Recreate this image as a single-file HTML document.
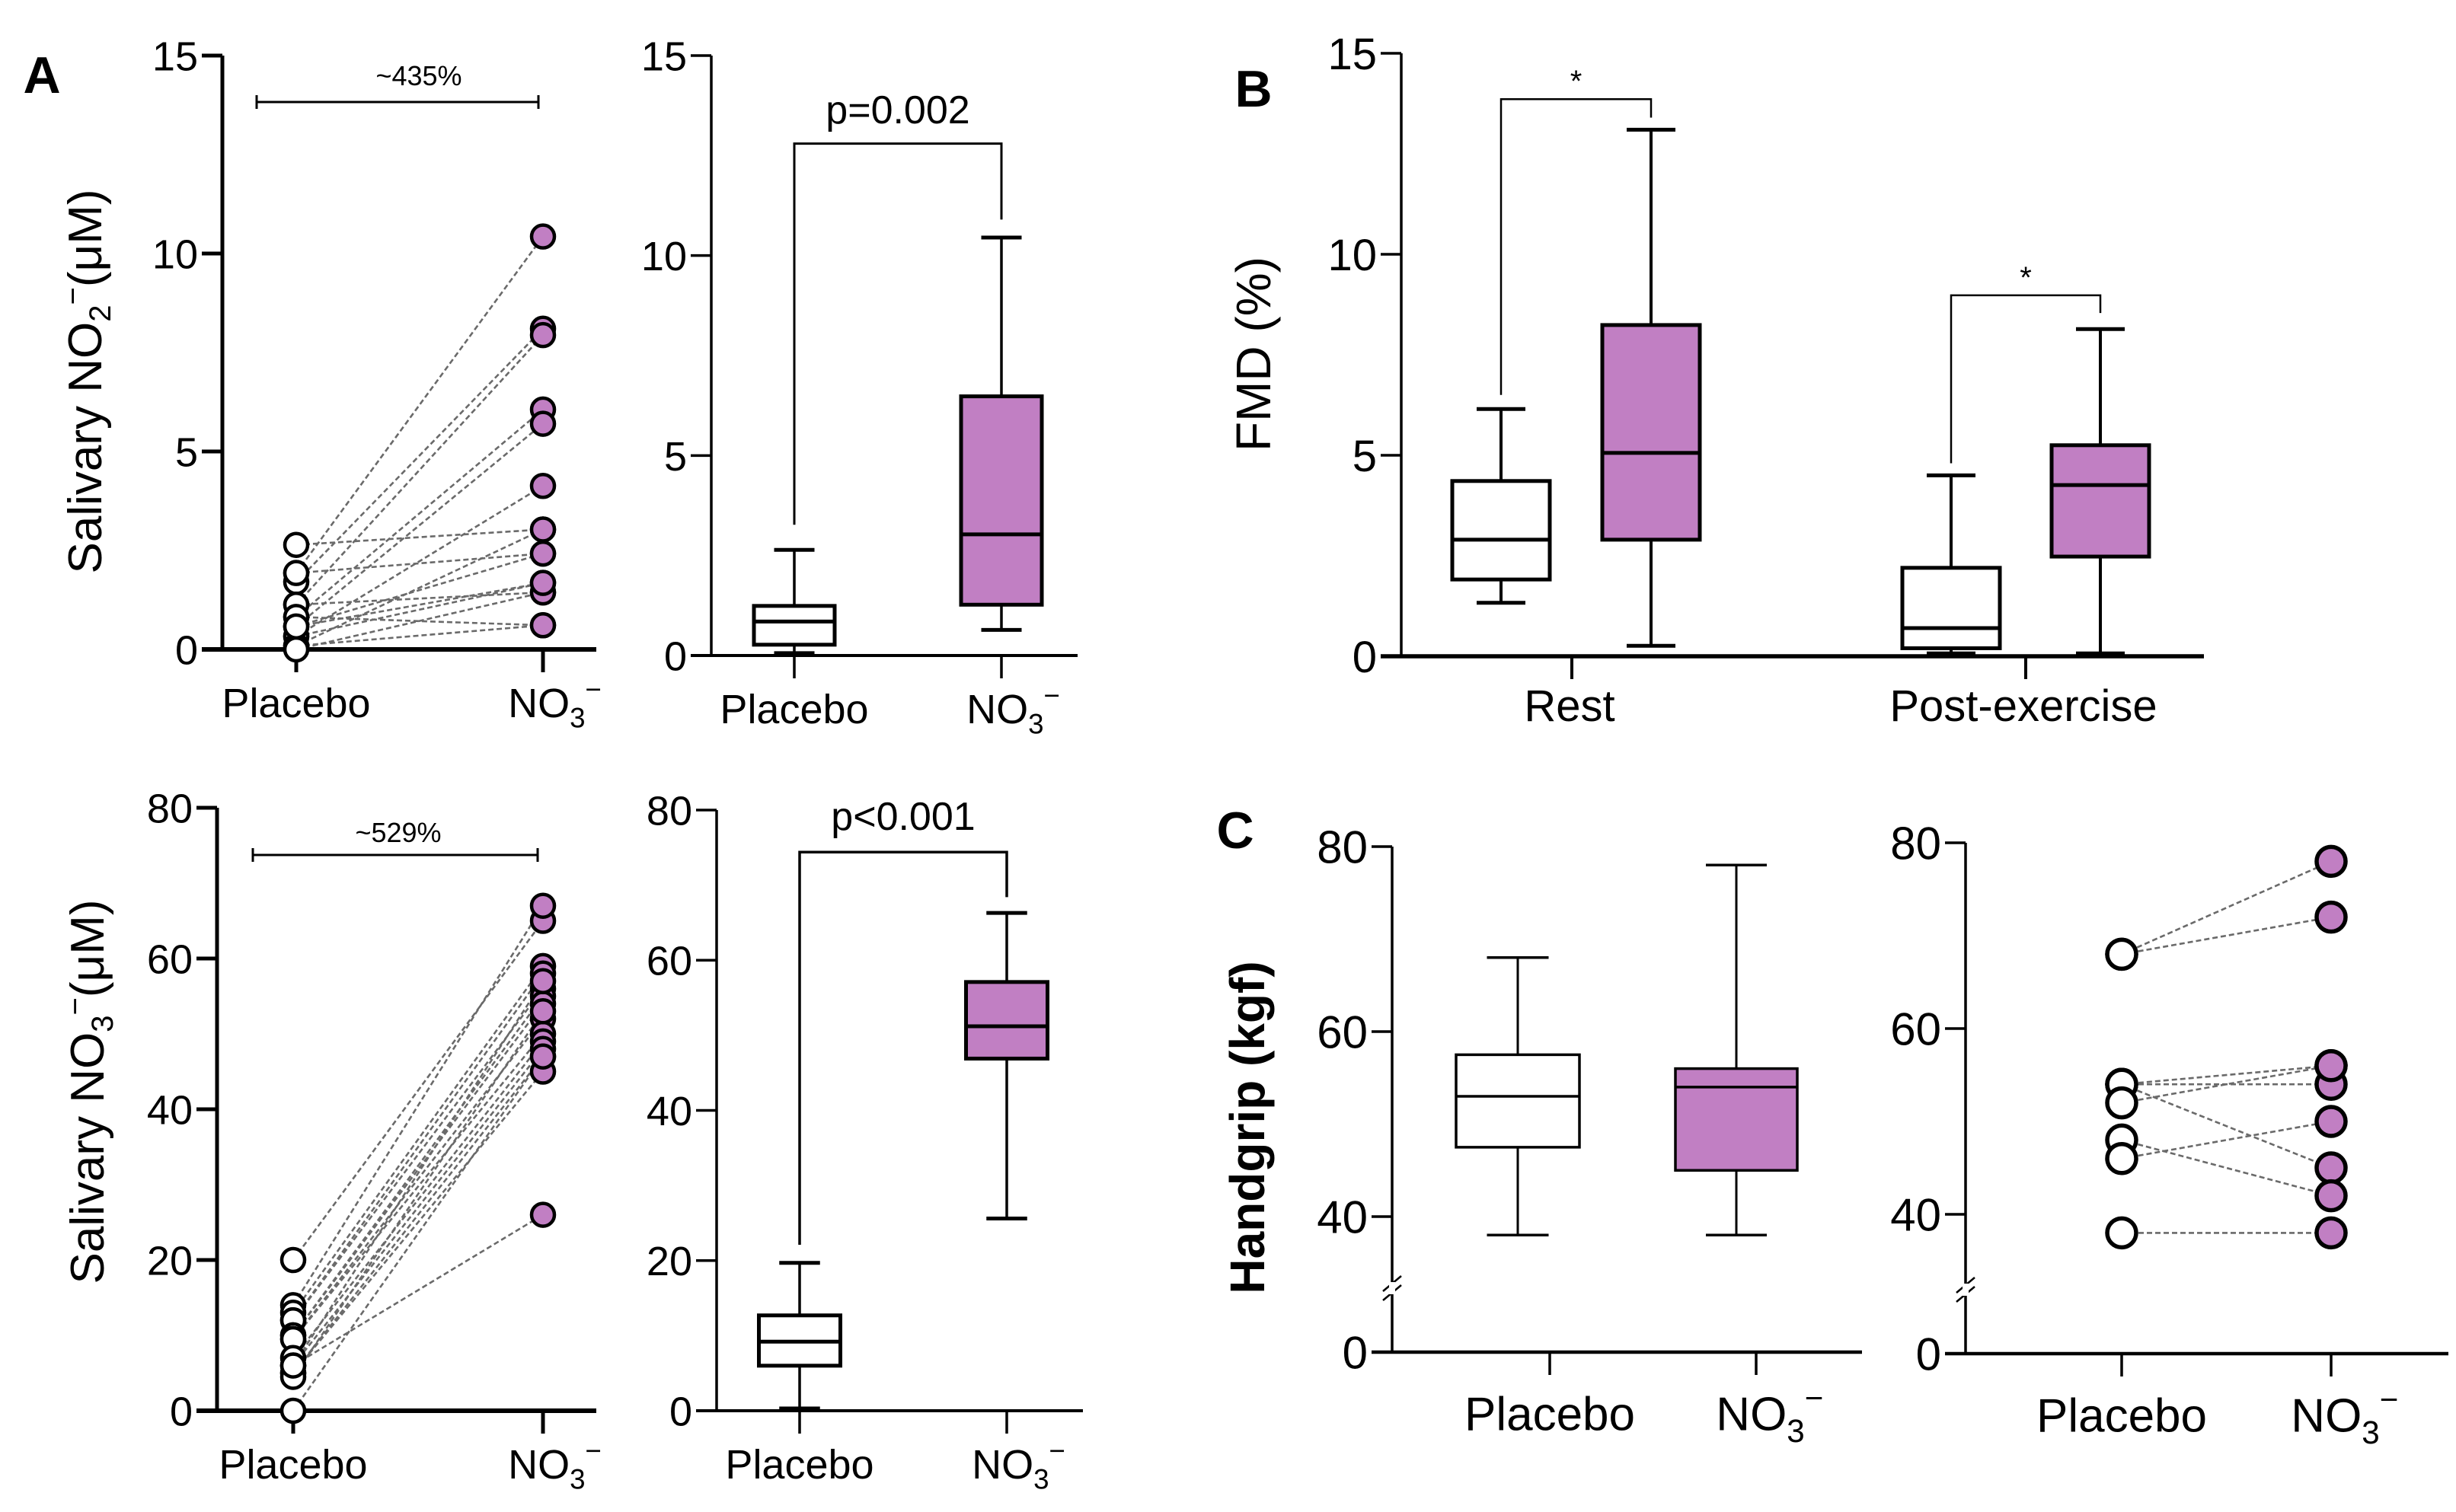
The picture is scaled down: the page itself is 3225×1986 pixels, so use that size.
<!DOCTYPE html>
<html><head><meta charset="utf-8"><style>
html,body{margin:0;padding:0;background:#fff}
svg{display:block}
text{font-family:"Liberation Sans",Arial,sans-serif;fill:#000}
</style></head><body>
<svg id="fig" xmlns="http://www.w3.org/2000/svg" width="3225" height="1986" viewBox="0 0 3225 1986">
<rect x="0" y="0" width="3225" height="1986" fill="#fff"/>
<text x="55" y="122" font-size="68" font-weight="bold" text-anchor="middle">A</text>
<text x="1646" y="140" font-size="68" font-weight="bold" text-anchor="middle">B</text>
<text x="1622" y="1114" font-size="68" font-weight="bold" text-anchor="middle">C</text>
<text transform="translate(133,501) rotate(-90)" font-size="62" text-anchor="middle">Salivary NO<tspan font-size="40" dy="12">2</tspan><tspan font-size="40" dy="-36">−</tspan><tspan dy="24">(μM)</tspan></text>
<text transform="translate(136,1434) rotate(-90)" font-size="62" text-anchor="middle">Salivary NO<tspan font-size="40" dy="12">3</tspan><tspan font-size="40" dy="-36">−</tspan><tspan dy="24">(μM)</tspan></text>
<text transform="translate(1668,465) rotate(-90)" font-size="64" text-anchor="middle">FMD (%)</text>
<text transform="translate(1660,1481) rotate(-90)" font-size="64" font-weight="bold" text-anchor="middle">Handgrip (kgf)</text>
</svg>
<script>
// ---------- data ----------
const a1Placebo = [2.64,1.93,1.70,1.13,0.82,1.13,0.58,0.33,0.58,0.33,0.09,0.82,0.09,0.00,1.93,0.58];
const a1Nitrate = [3.03,10.43,8.10,7.94,6.06,1.44,5.70,4.13,2.42,1.68,0.61,0.61,3.03,1.44,2.42,1.68];
const a2Placebo = {min:0.06,q1:0.27,med:0.85,q3:1.24,max:2.64};
const a2Nitrate = {min:0.64,q1:1.27,med:3.03,q3:6.48,max:10.45};
const a3Placebo = [20,14,13,12,12,10,10,9.5,9.5,7,6,6,5,5,4.5,0,6];
const a3Nitrate = [65,67,59,58,56,55,54,52,50,49,57,48,47,45,53,47,26];
const a4Placebo = {min:0.3,q1:6.0,med:9.2,q3:12.7,max:19.7};
const a4Nitrate = {min:25.6,q1:46.9,med:51.2,q3:57.1,max:66.3};
const bRestPlacebo = {min:1.33,q1:1.91,med:2.9,q3:4.36,max:6.15};
const bRestNitrate = {min:0.26,q1:2.9,med:5.06,q3:8.24,max:13.1};
const bPostPlacebo = {min:0.07,q1:0.2,med:0.7,q3:2.2,max:4.5};
const bPostNitrate = {min:0.07,q1:2.48,med:4.26,q3:5.25,max:8.14};
const c1Placebo = {min:38,q1:47.5,med:53,q3:57.5,max:68};
const c1Nitrate = {min:38,q1:45,med:54,q3:56,max:78};
const c2Placebo = [68,68,54,54,54,52,48,46,38];
const c2Nitrate = [78,72,56,54,45,56,42,50,38];
const ticksNO2 = [0,5,10,15];
const ticksNO3 = [0,20,40,60,80];
const ticksFMD = [0,5,10,15];
const ticksHG = [0,40,60,80];
const groupLabels = ['Rest','Post-exercise'];

// ---------- helpers ----------
const NS='http://www.w3.org/2000/svg';
const svg=document.getElementById('fig');
const PURPLE='#c17fc3';
function mk(tag,parent,o){const e=document.createElementNS(NS,tag);for(const k in o)e.setAttribute(k,o[k]);parent.appendChild(e);return e;}
function lin(v0,p0,v1,p1){return v=>p0+(v-v0)*(p1-p0)/(v1-v0);}
function broken(v0p,lo,plo,hi,phi){const f=lin(lo,plo,hi,phi);return v=>v<=0?v0p:f(v);}

function axes(name,y,ticks,ax,xEnd,yw,xw,fs){
  const g=mk('g',svg,{});
  
  
  const y0=y(0), yt=y(ticks[ticks.length-1]);
  const yl=mk('line',g,{x1:ax,y1:yt,x2:ax,y2:y0,stroke:'#000','stroke-width':yw});
  
  
  const xl=mk('line',g,{x1:ax-27,y1:y0,x2:xEnd,y2:y0,stroke:'#000','stroke-width':xw});
  
  
  ticks.forEach(t=>{
    const tl=mk('line',g,{x1:ax-27,y1:y(t),x2:ax,y2:y(t),stroke:'#000','stroke-width':yw});
    
    
    const tx=mk('text',g,{x:ax-32,y:y(t)+fs*0.36,'font-size':fs,'text-anchor':'end'});
    tx.textContent=String(t);
    
    
  });
  return g;
}
function xcat(name,g,x,y0,label,fs,w){
  const t=mk('line',g,{x1:x,y1:y0,x2:x,y2:y0+30,stroke:'#000','stroke-width':w});
  
  
  const tx=mk('text',g,{x:x,y:y0+fs*1.65,'font-size':fs,'text-anchor':'middle'});
  if(label==='NO3'){
    tx.innerHTML='NO<tspan font-size="'+(fs*0.68)+'" dy="'+(fs*0.25)+'">3</tspan><tspan font-size="'+(fs*0.68)+'" dy="'+(-fs*0.7)+'">−</tspan>';
    tx.setAttribute('text-anchor','start');
    tx.setAttribute('x',x-fs*0.85);
  } else tx.textContent=label;
  
  
}
function box(name,g,y,cx,w,s,fill,sw,wsw){
  const bg=mk('g',g,{});
  
  
  const cw=w*0.5;
  const w1=mk('line',bg,{x1:cx,y1:y(s.q3),x2:cx,y2:y(s.max),stroke:'#000','stroke-width':wsw});
  
  
  const w2=mk('line',bg,{x1:cx,y1:y(s.q1),x2:cx,y2:y(s.min),stroke:'#000','stroke-width':wsw});
  
  
  const c1=mk('line',bg,{x1:cx-cw/2,y1:y(s.max),x2:cx+cw/2,y2:y(s.max),stroke:'#000','stroke-width':sw});
  
  
  const c2=mk('line',bg,{x1:cx-cw/2,y1:y(s.min),x2:cx+cw/2,y2:y(s.min),stroke:'#000','stroke-width':sw});
  
  
  const r=mk('rect',bg,{x:cx-w/2,y:y(s.q3),width:w,height:y(s.q1)-y(s.q3),fill:fill,stroke:'#000','stroke-width':sw});
  
  
  const m=mk('line',bg,{x1:cx-w/2,y1:y(s.med),x2:cx+w/2,y2:y(s.med),stroke:'#000','stroke-width':sw});
  
  
}
function paired(name,g,y,xa,xb,pa,pb,r,sw){
  const lg=mk('g',g,{});
  
  
  pa.forEach((v,i)=>{
    const l=mk('line',lg,{x1:xa,y1:y(v),x2:xb,y2:y(pb[i]),stroke:'#6a6a6a','stroke-width':2.6,'stroke-dasharray':'7 4'});
    
    
  });
  pa.forEach(v=>{
    const c=mk('circle',g,{cx:xa,cy:y(v),r:r,fill:'#fff',stroke:'#000','stroke-width':sw});
    
    
  });
  pb.forEach(v=>{
    const c=mk('circle',g,{cx:xb,cy:y(v),r:r,fill:PURPLE,stroke:'#000','stroke-width':sw});
    
    
  });
}
function hbracket(name,g,x1,x2,yy,label,tx,ty,fs){
  const p=mk('path',g,{d:`M${x1},${yy-9}V${yy+9}M${x1},${yy}H${x2}M${x2},${yy-9}V${yy+9}`,stroke:'#000','stroke-width':3,fill:'none'});
  
  
  const t=mk('text',g,{x:tx,y:ty,'font-size':fs,'text-anchor':'middle'});
  t.textContent=label;
  
  
}
function sig(name,g,x1,x2,yTop,yL,yR,label,ty,fs,sw){
  const p=mk('path',g,{d:`M${x1},${yL}V${yTop}H${x2}V${yR}`,stroke:'#000','stroke-width':sw,fill:'none'});
  
  
  const t=mk('text',g,{x:(x1+x2)/2,y:ty,'font-size':fs,'text-anchor':'middle'});
  t.textContent=label;
  
  
}

// ---------- Panel A1 ----------
{const y=lin(0,853,15,73);const g=axes('a1',y,ticksNO2,292,783,5,6,54);
 xcat('a1',g,389,y(0),'Placebo',54,5);xcat('a1',g,713,y(0),'NO3',54,5);
 paired('a1',g,y,389,713,a1Placebo,a1Nitrate,15,4.5);
 hbracket('a1',g,337,707,134,'~435%',550,112,36);}
// ---------- Panel A2 ----------
{const y=lin(0,861,15,73);const g=axes('a2',y,ticksNO2,934,1415,3.5,4,54);
 xcat('a2',g,1043,y(0),'Placebo',54,3.5);xcat('a2',g,1315,y(0),'NO3',54,3.5);
 box('a2-placebo-box',g,y,1043,106,a2Placebo,'#fff',5,3.5);
 box('a2-nitrate-box',g,y,1315,106,a2Nitrate,PURPLE,5,3.5);
 sig('a2',g,1043,1315,y(12.8),y(3.27),y(10.9),'p=0.002',162,52,3);}
// ---------- Panel A3 ----------
{const y=lin(0,1853,80,1061);const g=axes('a3',y,ticksNO3,285,783,5,6,54);
 xcat('a3',g,385,y(0),'Placebo',54,5);xcat('a3',g,713,y(0),'NO3',54,5);
 paired('a3',g,y,385,713,a3Placebo,a3Nitrate,15,4.5);
 hbracket('a3',g,332,706,1123,'~529%',523,1106,36);}
// ---------- Panel A4 ----------
{const y=lin(0,1853,80,1064);const g=axes('a4',y,ticksNO3,941,1422,3.5,4,54);
 xcat('a4',g,1050,y(0),'Placebo',54,3.5);xcat('a4',g,1322,y(0),'NO3',54,3.5);
 box('a4-placebo-box',g,y,1050,107,a4Placebo,'#fff',5,3.5);
 box('a4-nitrate-box',g,y,1322,107,a4Nitrate,PURPLE,5,3.5);
 sig('a4',g,1050,1322,y(74.4),y(22.1),y(68.4),'p<0.001',1090,52,3.5);}
// ---------- Panel B ----------
{const y=lin(0,862,15,70);const g=axes('b',y,ticksFMD,1840,2894,3.5,5.5,58);
 [2064,2660].forEach((x,i)=>{
   const t=mk('line',g,{x1:x,y1:y(0),x2:x,y2:y(0)+30,stroke:'#000','stroke-width':4});
   
   
   const tx=mk('text',g,{x:x-3,y:947,'font-size':58,'text-anchor':'middle'});
   tx.textContent=groupLabels[i];
   
   
 });
 box('b-rest-placebo-box',g,y,1971,128,bRestPlacebo,'#fff',5,4);
 box('b-rest-nitrate-box',g,y,2168,128,bRestNitrate,PURPLE,5,4);
 box('b-post-placebo-box',g,y,2562,128,bPostPlacebo,'#fff',5,4);
 box('b-post-nitrate-box',g,y,2758,128,bPostNitrate,PURPLE,5,4);
 sig('b-rest',g,1971,2168,y(13.86),y(6.5),y(13.4),'*',y(13.86)-10,40,2.5);
 sig('b-post',g,2562,2758,y(8.98),y(4.8),y(8.54),'*',y(8.98)-10,40,2.5);}
// ---------- Panel C1 ----------
function breakMark(name,g,ax,yb){
  const p=mk('path',g,{d:`M${ax-12},${yb+2}L${ax+12},${yb-18}M${ax-12},${yb+14}L${ax+12},${yb-6}`,stroke:'#000','stroke-width':2.5,fill:'none'});
  
  
  const w=mk('rect',g,{x:ax-4,y:yb-10,width:8,height:16,fill:'#fff'});
  
  
}
{const y=broken(1776,40,1598,80,1112);const g=axes('c1',y,ticksHG,1828,2445,3.5,4.5,60);
 breakMark('c1',g,1828,1694);
 xcat('c1',g,2035,y(0),'Placebo',62,3.5);xcat('c1',g,2306,y(0),'NO3',62,3.5);
 box('c1-placebo-box',g,y,1993,162,c1Placebo,'#fff',3.5,3);
 box('c1-nitrate-box',g,y,2280,160,c1Nitrate,PURPLE,3.5,3);}
// ---------- Panel C2 ----------
{const y=broken(1778,40,1595,80,1107);const g=axes('c2',y,ticksHG,2581,3215,3.5,4.5,60);
 breakMark('c2',g,2581,1696);
 xcat('c2',g,2786,y(0),'Placebo',62,3.5);xcat('c2',g,3061,y(0),'NO3',62,3.5);
 paired('c2',g,y,2786,3061,c2Placebo,c2Nitrate,19,5.5);}
</script>
</body></html>
